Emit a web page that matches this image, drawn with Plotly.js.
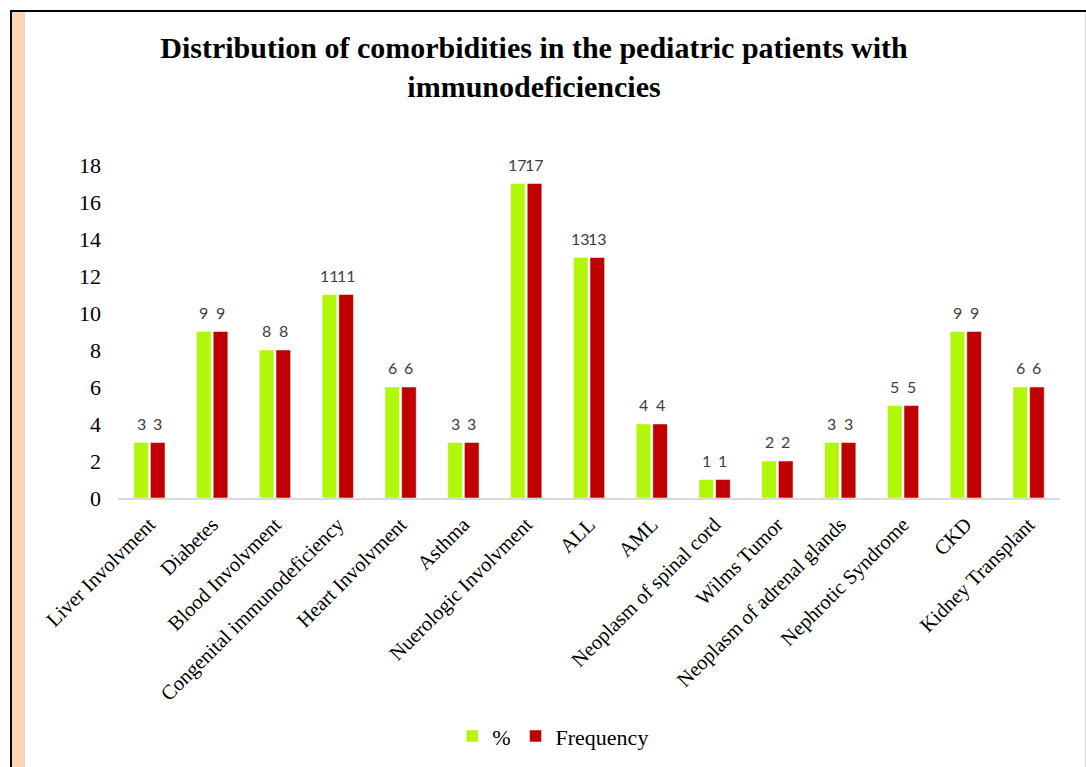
<!DOCTYPE html>
<html>
<head>
<meta charset="utf-8">
<script src="https://cdn.plot.ly/plotly-3.0.1.min.js"></script>
<style>
  html, body { margin: 0; padding: 0; background: #ffffff; }
  #wrap { position: relative; width: 1086px; height: 767px; overflow: hidden; }
  #chart { position: absolute; left: 0; top: 0; width: 1086px; height: 767px; }
  .deco { position: absolute; pointer-events: none; }
</style>
</head>
<body>
<div id="wrap">
  <div id="chart"></div>
  <div class="deco" style="left:10px;top:10px;width:1076px;height:2px;background:#000;"></div>
  <div class="deco" style="left:10px;top:10px;width:2px;height:757px;background:#000;"></div>
  <div class="deco" style="left:12px;top:12px;width:12px;height:755px;background:#fcd5b4;"></div>
  <div class="deco" style="left:24px;top:12px;width:1px;height:755px;background:#d9d9d9;"></div>
  <div class="deco" style="left:1085px;top:12px;width:1px;height:755px;background:#d9d9d9;"></div>
</div>
<script>
const categories = [
  "Liver Involvment", "Diabetes", "Blood Involvment", "Congenital immunodeficiency",
  "Heart Involvment", "Asthma", "Nuerologic Involvment", "ALL", "AML",
  "Neoplasm of spinal cord", "Wilms Tumor", "Neoplasm of adrenal glands",
  "Nephrotic Syndrome", "CKD", "Kidney Transplant"
];
const percentValues = [3, 9, 8, 11, 6, 3, 17, 13, 4, 1, 2, 3, 5, 9, 6];
const frequencyValues = [3, 9, 8, 11, 6, 3, 17, 13, 4, 1, 2, 3, 5, 9, 6];
const yTicks = [0, 2, 4, 6, 8, 10, 12, 14, 16, 18];

const W = 1086, H = 767;
const margin = { l: 118, r: 26, t: 165, b: 268 };
const bargap = 0.47;
const serif = "'Liberation Serif', 'Times New Roman', serif";
const labelFont = { family: "Lato, 'Open Sans', sans-serif", size: 16, color: "#404040" };

// offset of each bar's centre from its category centre (pixels), from the layout
const catWidth = (W - margin.l - margin.r) / categories.length;
const slot = catWidth * (1 - bargap) / 2;

const series = [
  { name: "%", values: percentValues, color: "#b2f60a", shift: -slot / 2 },
  { name: "Frequency", values: frequencyValues, color: "#c00000", shift: slot / 2 }
];

const traces = series.map(s => ({
  type: "bar", name: s.name, x: categories, y: s.values,
  marker: { color: s.color, line: { color: "#ffffff", width: 0.5 } },
  hoverinfo: "x+y"
}));

const annotations = [];
series.forEach(s => {
  categories.forEach((c, i) => {
    annotations.push({
      xref: "x", yref: "y", x: c, y: s.values[i],
      text: String(s.values[i]), showarrow: false,
      xanchor: "center", yanchor: "bottom", xshift: s.shift, yshift: 8,
      font: labelFont
    });
  });
});

const layout = {
  width: W, height: H,
  paper_bgcolor: "rgba(0,0,0,0)", plot_bgcolor: "rgba(0,0,0,0)",
  margin: margin,
  font: { family: serif, color: "#000000" },
  title: {
    text: "<b>Distribution of comorbidities in the pediatric patients with<br>immunodeficiencies</b>",
    font: { family: serif, size: 30, color: "#000000" },
    xref: "container", x: 0.4917, xanchor: "center",
    yref: "container", y: 0.924, yanchor: "top"
  },
  barmode: "group", bargap: bargap, bargroupgap: 0.12,
  xaxis: {
    type: "category", tickangle: -45, showgrid: false, zeroline: false,
    showline: true, linecolor: "#d9d9d9", linewidth: 1.5, ticks: "",
    tickfont: { family: serif, size: 20.5, color: "#000000" },
    ticklabelstandoff: 5
  },
  yaxis: {
    range: [0, 18], tickvals: yTicks, ticktext: yTicks.map(String),
    showgrid: false, zeroline: false, showline: false, ticks: "",
    tickfont: { family: serif, size: 22, color: "#000000" },
    ticklabelstandoff: 16
  },
  legend: {
    orientation: "h", x: 0.462, xanchor: "center", y: -0.71, yanchor: "middle",
    font: { family: serif, size: 22, color: "#000000" },
    itemwidth: 30, tracegroupgap: 0
  },
  annotations: annotations,
  showlegend: true
};

Plotly.newPlot("chart", traces, layout, { displayModeBar: false, staticPlot: true });
</script>
</body>
</html>
